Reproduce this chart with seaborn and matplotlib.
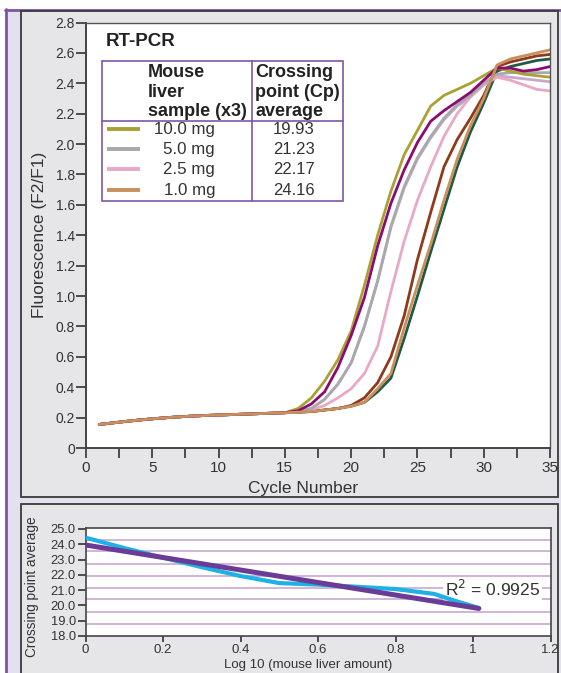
import numpy as np
import pandas as pd
import matplotlib
matplotlib.use("Agg")
import matplotlib.pyplot as plt
import seaborn as sns
from matplotlib.patches import Rectangle
from matplotlib.lines import Line2D
from matplotlib.ticker import MultipleLocator

# ---------------- data ----------------
cycles = list(range(1, 36))
baseline = [0.155, 0.165, 0.175, 0.184, 0.192, 0.199, 0.205, 0.210, 0.214,
            0.217, 0.220, 0.223, 0.226, 0.229, 0.232]  # cycles 1-15 (all samples)

# cycles 16-35
olive_10mg = [0.26, 0.33, 0.44, 0.58, 0.77, 1.07, 1.40, 1.69, 1.93, 2.09,
              2.25, 2.32, 2.36, 2.40, 2.45, 2.50, 2.48, 2.46, 2.45, 2.44]
purple_10mg = [0.245, 0.29, 0.37, 0.53, 0.74, 0.99, 1.33, 1.61, 1.83, 2.01,
               2.15, 2.22, 2.28, 2.34, 2.42, 2.50, 2.50, 2.48, 2.49, 2.51]
gray_5mg = [0.24, 0.26, 0.32, 0.42, 0.56, 0.80, 1.10, 1.46, 1.72, 1.91,
            2.05, 2.17, 2.26, 2.32, 2.40, 2.46, 2.47, 2.47, 2.47, 2.47]
lavender_5mg = [0.24, 0.26, 0.32, 0.42, 0.56, 0.80, 1.10, 1.45, 1.71, 1.90,
                2.04, 2.16, 2.25, 2.31, 2.39, 2.45, 2.44, 2.43, 2.42, 2.41]
pink_2_5mg = [0.238, 0.25, 0.28, 0.33, 0.39, 0.49, 0.67, 1.03, 1.36, 1.63,
              1.85, 2.05, 2.20, 2.31, 2.39, 2.44, 2.42, 2.39, 2.36, 2.35]
rust_1mg = [0.236, 0.24, 0.25, 0.26, 0.28, 0.33, 0.43, 0.60, 0.87, 1.24,
            1.55, 1.85, 2.03, 2.17, 2.32, 2.51, 2.54, 2.56, 2.58, 2.59]
green_1mg = [0.236, 0.24, 0.25, 0.26, 0.275, 0.30, 0.37, 0.46, 0.72, 1.00,
             1.29, 1.57, 1.85, 2.08, 2.27, 2.48, 2.51, 2.53, 2.55, 2.56]
tan_1mg = [0.236, 0.24, 0.25, 0.26, 0.275, 0.30, 0.39, 0.49, 0.79, 1.07,
           1.34, 1.63, 1.90, 2.12, 2.30, 2.52, 2.56, 2.58, 2.60, 2.62]

legend_samples = ["10.0 mg", "5.0 mg", "2.5 mg", "1.0 mg"]
legend_cp = ["19.93", "21.23", "22.17", "24.16"]

log_amount = [0, 0.1, 0.2, 0.3, 0.4, 0.5, 0.6, 0.7, 0.8, 0.9, 0.95, 1.015]
cp_curve = [24.43, 23.75, 23.12, 22.50, 21.92, 21.46, 21.36, 21.22, 21.07, 20.75, 20.33, 19.83]
fit_x = [0, 1.015]
fit_y = [23.95, 19.80]
r2_text = "R$^2$ = 0.9925"

# ---------------- styling ----------------
series = [
    ("green_1mg", green_1mg, "#1F5A42"),
    ("rust_1mg", rust_1mg, "#8E3A1C"),
    ("lavender_5mg", lavender_5mg, "#C6A9CC"),
    ("pink_2_5mg", pink_2_5mg, "#E9A9C6"),
    ("gray_5mg", gray_5mg, "#A9A9AD"),
    ("olive_10mg", olive_10mg, "#A9A133"),
    ("purple_10mg", purple_10mg, "#8A0C70"),
    ("tan_1mg", tan_1mg, "#C98F5C"),
]
legend_colors = ["#A9A133", "#A9A9AD", "#E9A9C6", "#C98F5C"]

rows = []
for name, vals, _ in series:
    for c, v in zip(cycles, baseline + vals):
        rows.append({"cycle": c, "value": v, "sample": name})
df = pd.DataFrame(rows)
palette = {name: col for name, _, col in series}
order = [name for name, _, _ in series]

sns.set_style("white")
plt.rcParams["font.family"] = ["Liberation Sans", "DejaVu Sans"]
TXT = "#333333"

W, H = 561, 673
fig = plt.figure(figsize=(W / 100, H / 100), dpi=100, facecolor="white")


def fx(x):
    return x / W


def fy(y):
    return 1 - y / H


def frect(x0, y0, x1, y1, **kw):
    r = Rectangle((fx(x0), fy(y1)), fx(x1) - fx(x0), fy(y0) - fy(y1),
                  transform=fig.transFigure, **kw)
    fig.add_artist(r)
    return r


def fline(xs, ys, **kw):
    l = Line2D([fx(x) for x in xs], [fy(y) for y in ys], transform=fig.transFigure, **kw)
    fig.add_artist(l)
    return l


# backgrounds
frect(5, 9, 561, 673, facecolor="#E3E1EF", edgecolor="none", zorder=-5)
fline([5, 561], [9.5, 9.5], color="#7E55A6", lw=2, zorder=-4)
fline([5.5, 5.5], [9, 673], color="#7E55A6", lw=2, zorder=-4)
frect(21, 11, 558, 497, facecolor="#E6E6E8", edgecolor="#3A3A3A", lw=1.3, zorder=-3)
frect(21, 504, 558, 680, facecolor="#E6E6E8", edgecolor="#3A3A3A", lw=1.3, zorder=-3)

# ---------------- top plot ----------------
ax = fig.add_axes([fx(86), fy(448), fx(550) - fx(86), fy(22.5) - fy(448)])
ax.set_facecolor("white")
sns.lineplot(data=df, x="cycle", y="value", hue="sample", hue_order=order,
             palette=palette, linewidth=2.0, legend=False, ax=ax, sort=True)
ax.set_xlim(0, 35)
ax.set_ylim(0, 2.8)
ax.xaxis.set_major_locator(MultipleLocator(5))
ax.xaxis.set_minor_locator(MultipleLocator(2.5))
yt = np.arange(0, 2.81, 0.2)
ax.set_yticks(yt)
ax.set_yticklabels(["0" if abs(v) < 1e-9 else f"{v:.1f}" for v in yt])
ax.tick_params(axis="y", direction="out", length=7, width=1.2, colors=TXT,
               labelsize=10, pad=1, left=True)
ax.tick_params(axis="x", which="both", direction="out", length=7, width=1.2,
               colors=TXT, labelsize=11, pad=2, bottom=True)
ax.set_xlabel("")
ax.set_ylabel("")
for s in ["left", "bottom"]:
    ax.spines[s].set_color("#444444")
    ax.spines[s].set_linewidth(1.4)
for s in ["top", "right"]:
    ax.spines[s].set_color("#555555")
    ax.spines[s].set_linewidth(1.0)

fig.text(fx(40), fy(235), "Fluorescence (F2/F1)", rotation=90, ha="center",
         va="center", fontsize=12.5, color=TXT)
fig.text(fx(303), fy(488), "Cycle Number", ha="center", va="center",
         fontsize=12.5, color=TXT)

# legend table
Z = 20
fig.text(fx(106), fy(41), "RT-PCR", ha="left", va="center", fontsize=13.5,
         fontweight="bold", color="#222222", zorder=Z)
TB = "#7E55A6"
frect(102, 61, 342.5, 200.5, facecolor="none", edgecolor=TB, lw=1.2, zorder=Z)
fline([102, 342.5], [120.7, 120.7], color=TB, lw=1.2, zorder=Z)
fline([252, 252], [61, 200.5], color=TB, lw=1.2, zorder=Z)
for i, line in enumerate(["Mouse", "liver", "sample (x3)"]):
    fig.text(fx(148), fy(72.5 + 19.7 * i), line, ha="left", va="center",
             fontsize=13, fontweight="bold", color="#222222", zorder=Z)
for i, line in enumerate(["Crossing", "point (Cp)", "average"]):
    fig.text(fx(255), fy(72.5 + 19.7 * i), line, ha="left", va="center",
             fontsize=13, fontweight="bold", color="#222222", zorder=Z)
for i, (lab, cp, col) in enumerate(zip(legend_samples, legend_cp, legend_colors)):
    yy = 128.7 + 20.3 * i
    fline([107, 140], [yy, yy], color=col, lw=2.8, solid_capstyle="butt", zorder=Z)
    fig.text(fx(215), fy(yy + 0.5), lab, ha="right", va="center", fontsize=12.2,
             color=TXT, zorder=Z)
    fig.text(fx(273), fy(yy + 0.5), cp, ha="left", va="center", fontsize=12,
             color=TXT, zorder=Z)

# ---------------- bottom plot ----------------
bx = fig.add_axes([fx(85.5), fy(636), fx(550.5) - fx(85.5), fy(527.7) - fy(636)])
bx.set_facecolor("white")
for gy in [24.27, 23.56, 22.7, 21.92, 21.14, 20.42, 19.57, 18.78]:
    bx.axhline(gy, color="#C7A9CF", lw=1.2, zorder=1)
sns.lineplot(x=log_amount, y=cp_curve, color="#1DB1E6", linewidth=3.0, ax=bx,
             zorder=3, sort=False)
sns.lineplot(x=fit_x, y=fit_y, color="#6B3C96", linewidth=3.6, ax=bx, zorder=4,
             sort=False)
bx.set_xlim(0, 1.2)
bx.set_ylim(18, 25.08)
bx.set_xticks([0, 0.2, 0.4, 0.6, 0.8, 1.0, 1.2])
bx.set_xticklabels(["0", "0.2", "0.4", "0.6", "0.8", "1", "1.2"])
bx.set_yticks([18, 19, 20, 21, 22, 23, 24, 25])
bx.set_yticklabels(["18.0", "19.0", "20.0", "21.0", "22.0", "23.0", "24.0", "25.0"])
bx.tick_params(axis="y", direction="out", length=6, width=1.2, colors=TXT,
               labelsize=9.3, pad=1, left=True)
bx.tick_params(axis="x", direction="out", length=4, width=1.2, colors=TXT,
               labelsize=9.5, pad=2, bottom=True)
bx.set_xlabel("")
bx.set_ylabel("")
for s in bx.spines.values():
    s.set_color("#444444")
    s.set_linewidth(1.2)
bx.text(1.05, 21.05, r2_text, ha="center", va="center", fontsize=12.5,
        color=TXT, zorder=2,
        bbox=dict(facecolor="white", edgecolor="none", pad=1.5))

fig.text(fx(32.5), fy(587), "Crossing point average", rotation=90, ha="center",
         va="center", fontsize=9.8, color=TXT)
fig.text(fx(308), fy(665), "Log 10 (mouse liver amount)", ha="center",
         va="center", fontsize=9.5, color=TXT)

fig.savefig("out.png", dpi=100, facecolor="white")
